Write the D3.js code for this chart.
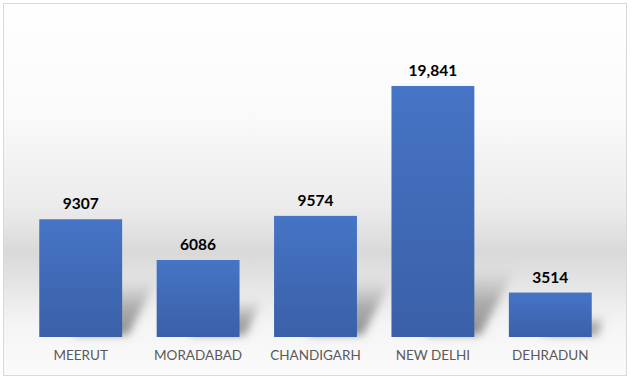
<!DOCTYPE html>
<html><head><meta charset="utf-8">
<script src="https://cdn.jsdelivr.net/npm/d3@7"></script>
<style>html,body{margin:0;padding:0;background:#fff;}svg{display:block;}</style>
</head><body>
<script>
const categories = ["MEERUT", "MORADABAD", "CHANDIGARH", "NEW DELHI", "DEHRADUN"];
const values = [9307, 6086, 9574, 19841, 3514];
const valueLabels = ["9307", "6086", "9574", "19,841", "3514"];

const W = 632, H = 381;
const svg = d3.select("body").append("svg").attr("width", W).attr("height", H);
const defs = svg.append("defs");

const bg = defs.append("linearGradient").attr("id", "bg").attr("x1", 0).attr("y1", 0).attr("x2", 0).attr("y2", 1);
[[0, "#ffffff"], [0.3, "#fafafa"], [0.55, "#ebebeb"], [0.67, "#d9d9d9"], [0.74, "#e3e3e3"], [0.86, "#f4f4f4"], [1, "#fbfbfb"]]
  .forEach(([o, c]) => bg.append("stop").attr("offset", o).attr("stop-color", c));

const barG = defs.append("linearGradient").attr("id", "barg").attr("x1", 0).attr("y1", 0).attr("x2", 0).attr("y2", 1);
[[0, "#4674c6"], [1, "#3a60a8"]].forEach(([o, c]) => barG.append("stop").attr("offset", o).attr("stop-color", c));

const shG = defs.append("linearGradient").attr("id", "shg").attr("x1", 0).attr("y1", 1).attr("x2", 0).attr("y2", 0);
[[0, "#6a6a6a", 0.75], [0.5, "#7a7a7a", 0.55], [1, "#9a9a9a", 0.0]]
  .forEach(([o, c, a]) => shG.append("stop").attr("offset", o).attr("stop-color", c).attr("stop-opacity", a));

defs.append("filter").attr("id", "blur").attr("x", "-50%").attr("y", "-50%").attr("width", "200%").attr("height", "200%")
  .append("feGaussianBlur").attr("stdDeviation", 4);

svg.append("rect").attr("x", 3.5).attr("y", 3.5).attr("width", 623).attr("height", 372)
  .attr("fill", "url(#bg)").attr("stroke", "#d9d9d9").attr("stroke-width", 1);

const x = d3.scaleBand().domain(categories).range([22, 609]).paddingInner(0.294).paddingOuter(0.147);
const y = d3.scaleLinear().domain([0, 25000]).range([337, 20.7]);

const data = categories.map((c, i) => ({c, v: values[i], l: valueLabels[i]}));

// shadows
svg.append("g").selectAll("path").data(data).join("path")
  .attr("d", d => {
    const x0 = x(d.c), w = x.bandwidth(), b = y(0), h = b - y(d.v);
    const sh = Math.min(h * 0.5, 70), dx = sh * 0.6;
    return `M${x0 + w * 0.4},${b - 2} L${x0 + w + 6},${b - 2} L${x0 + w + dx},${b - sh} L${x0 + w * 0.4 + dx},${b - sh} Z`;
  })
  .attr("fill", "url(#shg)").attr("filter", "url(#blur)");

// bars
svg.append("g").selectAll("rect").data(data).join("rect")
  .attr("x", d => x(d.c)).attr("y", d => y(d.v))
  .attr("width", x.bandwidth()).attr("height", d => y(0) - y(d.v))
  .attr("fill", "url(#barg)");

// value labels
svg.append("g").selectAll("text").data(data).join("text")
  .attr("x", d => x(d.c) + x.bandwidth() / 2).attr("y", d => y(d.v) - 10)
  .attr("text-anchor", "middle")
  .attr("font-family", "Lato, 'Open Sans', sans-serif").attr("font-weight", "bold")
  .attr("font-size", 15.5).attr("fill", "#000").text(d => d.l);

// x axis
const ax = svg.append("g").attr("transform", `translate(0,${y(0)})`)
  .call(d3.axisBottom(x).tickSize(0).tickPadding(13));
ax.select(".domain").remove();
ax.selectAll("text").attr("font-family", "Lato, 'Open Sans', sans-serif").attr("font-size", 13.5).attr("fill", "#595959");
</script>
</body></html>
